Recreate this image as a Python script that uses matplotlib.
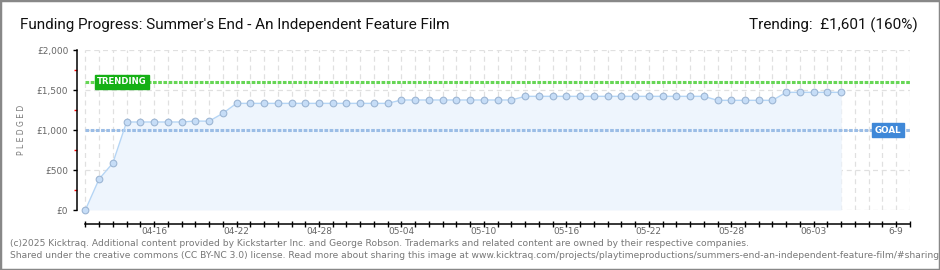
import matplotlib
matplotlib.use("Agg")
import matplotlib.pyplot as plt
from matplotlib.patches import Rectangle
import numpy as np

# pledged totals, one per day starting 04-11
pledged = [0, 387, 587, 1100, 1100, 1100, 1100, 1100, 1112, 1110, 1208,
           1333, 1333, 1333, 1333, 1333, 1333, 1333, 1333, 1333, 1333, 1333, 1333,
           1375, 1375, 1375, 1375, 1375, 1375, 1375, 1375, 1375,
           1421, 1421, 1421, 1421, 1421, 1421, 1421, 1421, 1421, 1421, 1421, 1421, 1421, 1421,
           1371, 1371, 1371, 1371, 1371,
           1471, 1471, 1471, 1471, 1471]
n_days = 61  # campaign length shown on the axis (04-11 .. 06-10)
goal = 1000
trending = 1601
date_labels = ["04-16", "04-22", "04-28", "05-04", "05-10", "05-16",
               "05-22", "05-28", "06-03", "6-9"]
label_days = [5, 11, 17, 23, 29, 35, 41, 47, 53, 59]
y_ticks = [0, 500, 1000, 1500, 2000]
y_labels = ["£0", "£500", "£1,000", "£1,500", "£2,000"]

title = "Funding Progress: Summer's End - An Independent Feature Film"
trend_text = "Trending:  £1,601 (160%)"
footer1 = ("(c)2025 Kicktraq. Additional content provided by Kickstarter Inc. and George Robson. "
           "Trademarks and related content are owned by their respective companies.")
footer2 = ("Shared under the creative commons (CC BY-NC 3.0) license. Read more about sharing this image at "
           "www.kicktraq.com/projects/playtimeproductions/summers-end-an-independent-feature-film/#sharing")

days = np.arange(len(pledged))
all_days = np.arange(n_days)

fig = plt.figure(figsize=(9.4, 2.7), dpi=100)
ax = fig.add_axes([0.0816, 0.2222, 0.968 - 0.0816, 0.8148 - 0.2222])
ax.set_xlim(-0.63, n_days - 1)
ax.set_ylim(0, 2000)

# dashed grid, drawn only over the campaign span
grid_kw = dict(color="#e0e0e0", lw=0.9, linestyles=(0, (4, 3)), zorder=0)
ax.vlines(all_days, 0, 2000, **grid_kw)
ax.hlines(y_ticks, 0, n_days - 1, **grid_kw)

ax.fill_between(days, pledged, 0, color="#eef5fd", zorder=1, lw=0)
ax.plot(days, pledged, color="#b5d5f5", lw=1, zorder=3, marker="o", ms=4.8,
        mfc="#c6ddf7", mec="#9db6d4", mew=0.8, clip_on=False)

ax.hlines(goal, 0, n_days - 1, color="#9bbde6", lw=2.2, linestyles=(0, (1.2, 0.5)), zorder=2)
ax.hlines(trending, 0, n_days - 1, color="#66d655", lw=2.2, linestyles=(0, (1.2, 0.5)), zorder=2)

ax.text(0.85, trending, "TRENDING", ha="left", va="center", color="white", fontsize=6.1,
        fontweight="bold", zorder=5,
        bbox=dict(boxstyle="square,pad=0.3", fc="#16b016", ec="#16b016"))
ax.text(57.45, goal, "GOAL", ha="left", va="center", color="white", fontsize=6.3,
        fontweight="bold", zorder=5,
        bbox=dict(boxstyle="square,pad=0.3", fc="#3f88d8", ec="#3f88d8"))

for s in ["top", "right"]:
    ax.spines[s].set_visible(False)
ax.spines["left"].set_bounds(0, 2000)
ax.spines["bottom"].set_position(("outward", 10))
ax.spines["bottom"].set_bounds(0, n_days - 1)
ax.spines["left"].set_linewidth(1.1)
ax.spines["bottom"].set_linewidth(1.1)

ax.set_yticks(y_ticks)
ax.set_yticklabels(y_labels)
ax.set_yticks([250, 750, 1250, 1750], minor=True)
ax.tick_params(axis="y", which="major", direction="out", length=3, width=1,
               labelsize=6.5, labelcolor="#666666", pad=3)
ax.tick_params(axis="y", which="minor", direction="out", length=2.5, width=1, color="red")

ax.set_xticks(all_days)
xl = [""] * n_days
for d, lab in zip(label_days, date_labels):
    xl[d] = lab
ax.set_xticklabels(xl)
ax.tick_params(axis="x", direction="inout", length=5, width=1,
               labelsize=6.5, labelcolor="#666666", pad=0)

ax.set_ylabel("P L E D G E D", fontsize=5.5, color="#777777")
ax.yaxis.set_label_coords(-0.061, 0.5)

fig.text(20 / 940, 1 - 25 / 270, title, fontsize=11, color="#111111", va="center", ha="left",
         family=["Roboto", "DejaVu Sans"])
fig.text(918 / 940, 1 - 25 / 270, trend_text, fontsize=11, color="#111111", va="center", ha="right",
         family=["Roboto", "DejaVu Sans"])
fig.text(10 / 940, 1 - 243 / 270, footer1, fontsize=6.6, color="#777777", va="center", ha="left")
fig.text(10 / 940, 1 - 256 / 270, footer2, fontsize=6.6, color="#777777", va="center", ha="left")

fig.patches.append(Rectangle((0, 0), 1, 1, transform=fig.transFigure, fill=False,
                             ec="#888888", lw=2.5))

fig.savefig("out.png", dpi=100)
